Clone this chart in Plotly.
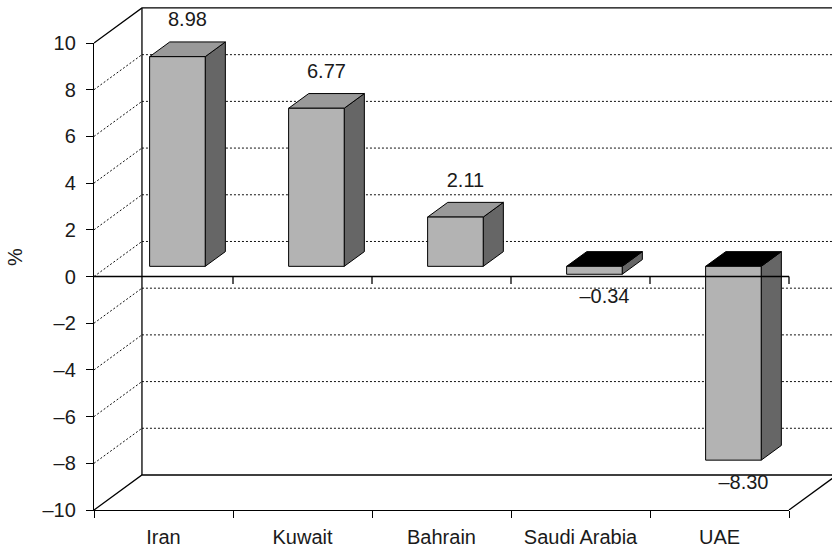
import plotly.graph_objects as go

# ---- data -------------------------------------------------------------
countries = ["Iran", "Kuwait", "Bahrain", "Saudi Arabia", "UAE"]
growth = [8.98, 6.77, 2.11, -0.34, -8.30]
y_tick_values = [-10, -8, -6, -4, -2, 0, 2, 4, 6, 8, 10]

# ---- geometry / style ---------------------------------------------------
W, H = 832, 547
M_L, M_R, M_T, M_B = 94, 0, 4, 37
PLOT_W, PLOT_H = W - M_L - M_R, H - M_T - M_B
PX_PER_CAT = 139.0
PX_PER_UNIT = 23.35
Y_MIN, Y_MAX = -10, 10
N = len(countries)

# oblique projection of the depth axis (d in 0..1)
DX, DY = 0.345, 1.5
BAR_HALF = 0.2
D_FRONT, D_BACK = 0.29, 0.71
LABEL_OFF_POS, LABEL_OFF_NEG = 1.2, 1.35

FRONT = "#b3b3b3"
SIDE = "#666666"
TOP_POS = "#999999"
TOP_NEG = "#000000"
GRID = "#111111"
TEXT = "#1a1a1a"
FONT = "Liberation Sans, Arial, Helvetica, sans-serif"
FS = 20


def proj(c, v, d):
    return c + DX * d, v + DY * d


def fmt(v):
    return f"{v:.2f}".replace("-", "\u2013")


fig = go.Figure()


def seg(points, dash=None, width=1, color="black"):
    xs, ys = zip(*[proj(*p) for p in points])
    fig.add_trace(go.Scatter(
        x=list(xs), y=list(ys), mode="lines", xaxis="x2", yaxis="y2",
        line=dict(color=color, width=width, dash=dash),
        hoverinfo="skip", showlegend=False))


def face(points, fill):
    xs, ys = zip(*[proj(*p) for p in points])
    xs, ys = list(xs) + [xs[0]], list(ys) + [ys[0]]
    fig.add_trace(go.Scatter(
        x=xs, y=ys, mode="lines", fill="toself", fillcolor=fill,
        xaxis="x2", yaxis="y2", line=dict(color="black", width=1),
        hoverinfo="skip", showlegend=False))


# ---- walls: gridlines on side wall and back wall --------------------------
for t in y_tick_values:
    if t in (Y_MIN, Y_MAX):
        continue
    seg([(0, t, 0), (0, t, 1)], dash="2px,2px", color=GRID)
    seg([(0, t, 1), (N + 0.2, t, 1)], dash="2px,2px", color=GRID)

# solid wall / floor edges
seg([(0, Y_MAX, 0), (0, Y_MAX, 1), (N + 0.2, Y_MAX, 1)], width=1.3)
seg([(0, Y_MIN, 1), (0, Y_MAX, 1)], width=1.3)
seg([(0, Y_MIN, 0), (0, Y_MIN, 1), (N + 0.2, Y_MIN, 1)], width=1.3)
seg([(N, Y_MIN, 0), (N, Y_MIN, 1)], width=1.3)

# ---- 3D bars --------------------------------------------------------------
for i, v in enumerate(growth):
    c = i + 0.5
    lo, hi = min(0, v), max(0, v)
    x0, x1 = c - BAR_HALF, c + BAR_HALF
    face([(x1, lo, D_FRONT), (x1, hi, D_FRONT), (x1, hi, D_BACK), (x1, lo, D_BACK)], SIDE)
    face([(x0, hi, D_FRONT), (x1, hi, D_FRONT), (x1, hi, D_BACK), (x0, hi, D_BACK)],
         TOP_POS if v >= 0 else TOP_NEG)
    face([(x0, lo, D_FRONT), (x1, lo, D_FRONT), (x1, hi, D_FRONT), (x0, hi, D_FRONT)], FRONT)

# ---- zero line with category ticks ---------------------------------------
seg([(0, 0, 0), (N, 0, 0)], width=1.3)
for k in range(1, N + 1):
    seg([(k, 0, 0), (k, -0.32, 0)], width=1.3)

# ---- value labels ----------------------------------------------------------
lx, ly = [], []
for i, v in enumerate(growth):
    off = LABEL_OFF_POS if v >= 0 else -LABEL_OFF_NEG
    px, py = proj(i + 0.5, v + off, 0.5)
    lx.append(px)
    ly.append(py)
fig.add_trace(go.Scatter(
    x=lx, y=ly, mode="text", text=[fmt(v) for v in growth],
    textposition="middle center", textfont=dict(family=FONT, size=FS, color=TEXT),
    xaxis="x2", yaxis="y2", cliponaxis=False, hoverinfo="skip", showlegend=False))

# anchor trace for the category axis
fig.add_trace(go.Scatter(
    x=countries, y=growth, mode="markers", marker=dict(opacity=0),
    xaxis="x", yaxis="y", hoverinfo="skip", showlegend=False))

x_dom_end = N * PX_PER_CAT / PLOT_W
y_dom_end = (Y_MAX - Y_MIN) * PX_PER_UNIT / PLOT_H

fig.update_layout(
    width=W, height=H,
    margin=dict(l=M_L, r=M_R, t=M_T, b=M_B, pad=0, autoexpand=False),
    paper_bgcolor="white", plot_bgcolor="rgba(0,0,0,0)",
    font=dict(family=FONT, size=FS, color=TEXT),
    xaxis=dict(
        type="category", categoryorder="array", categoryarray=countries,
        range=[-0.5, N - 0.5], domain=[0, x_dom_end], anchor="y", automargin=False,
        showline=True, linecolor="black", linewidth=1.3,
        ticks="outside", tickson="boundaries", ticklen=7, tickcolor="black", tickwidth=1.3,
        showgrid=False, zeroline=False, tickfont=dict(size=FS, color=TEXT),
        ticklabelstandoff=9, fixedrange=True),
    yaxis=dict(
        range=[Y_MIN, Y_MAX], domain=[0, y_dom_end], anchor="x", automargin=False,
        tickvals=y_tick_values, ticktext=[str(t).replace("-", "\u2013") for t in y_tick_values],
        showline=True, linecolor="black", linewidth=1.3,
        ticks="outside", ticklen=7, tickcolor="black", tickwidth=1.3,
        showgrid=False, zeroline=False, tickfont=dict(size=FS, color=TEXT),
        ticklabelstandoff=6, fixedrange=True),
    xaxis2=dict(range=[0, PLOT_W / PX_PER_CAT], domain=[0, 1], anchor="y2",
                visible=False, automargin=False, fixedrange=True),
    yaxis2=dict(range=[Y_MIN, Y_MIN + PLOT_H / PX_PER_UNIT], domain=[0, 1], anchor="x2",
                visible=False, automargin=False, fixedrange=True),
    annotations=[dict(
        text="%", xref="paper", yref="paper", x=(15 - M_L) / PLOT_W, y=0.5,
        xanchor="center", yanchor="middle", textangle=-90, showarrow=False,
        font=dict(family=FONT, size=FS, color=TEXT))],
)

fig.write_html("out.html")
